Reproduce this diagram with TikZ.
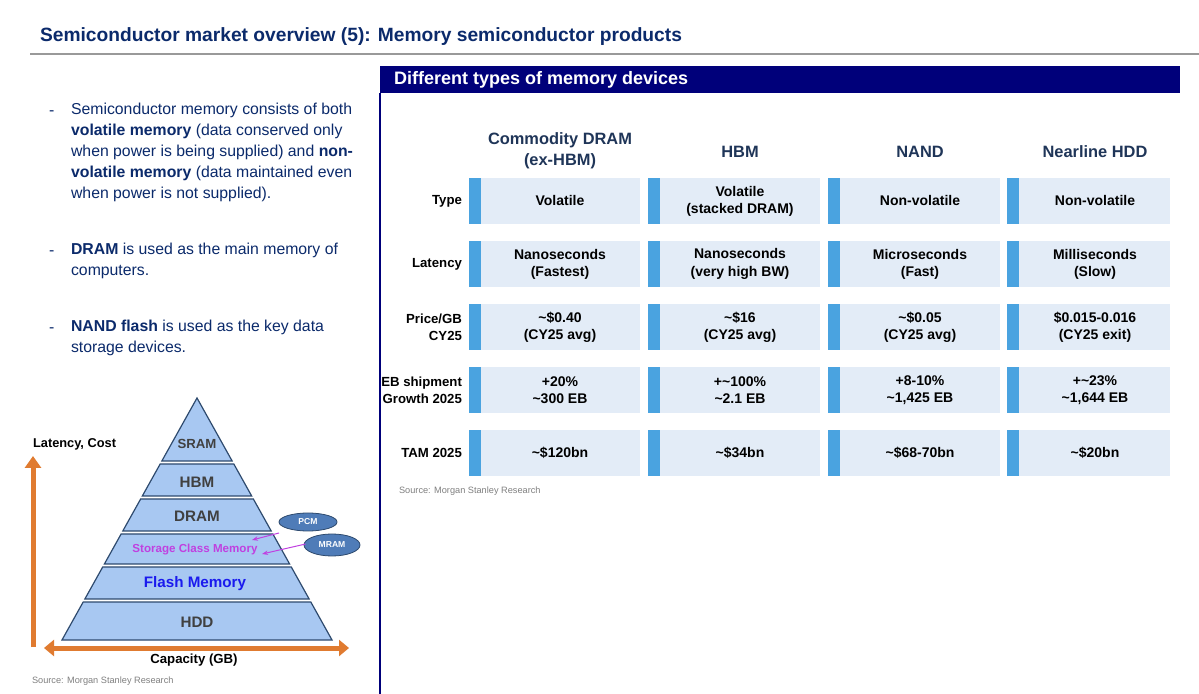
\documentclass[tikz,border=0pt]{standalone}
\usepackage{fontspec}
\setmainfont{Liberation Sans}
\usetikzlibrary{shapes.geometric,arrows.meta}
\definecolor{navy}{HTML}{0B2A6B}
\definecolor{hdr}{HTML}{00007A}
\definecolor{cellbg}{HTML}{E3ECF7}
\definecolor{stripe}{HTML}{4AA3E0}
\definecolor{colhd}{HTML}{1F3558}
\definecolor{pyr}{HTML}{A8C8F2}
\definecolor{pyrl}{HTML}{2E4A6E}
\definecolor{orng}{HTML}{E07B30}
\definecolor{ell}{HTML}{4F7CB8}
\definecolor{scm}{HTML}{C040E0}
\definecolor{flash}{HTML}{1A1AEE}
\begin{document}
\begin{tikzpicture}[x=0.5pt,y=-0.5pt,
  cell/.style={font=\bfseries\fontsize{7}{8.6}\selectfont,align=center,text=black},
  rowlab/.style={font=\bfseries\fontsize{6.6}{8.6}\selectfont,align=right,anchor=east,text=black},
  colh/.style={font=\bfseries\fontsize{8.2}{10.5}\selectfont,align=center,text=colhd},
  bul/.style={font=\fontsize{7.9}{10.5}\selectfont,text=navy,anchor=north west,align=left},
  bdash/.style={font=\fontsize{7.9}{10.5}\selectfont,text=navy,anchor=north west,text height=6pt,text depth=1.7pt},
  lay/.style={fill=pyr,draw=pyrl,line width=0.6pt},
  laytxt/.style={font=\bfseries\fontsize{7.6}{8}\selectfont,text=black!75},
  src/.style={font=\fontsize{4.6}{5.5}\selectfont,text=black!50,anchor=west}]
\useasboundingbox (0,0) rectangle (1199,694);
\fill[white] (0,0) rectangle (1199,694);
% title
\node[anchor=west,font=\bfseries\fontsize{9.6}{11}\selectfont,text=navy] (title) at (33,37) {Semiconductor market overview (5): Memory semiconductor products};
\draw[black!40,line width=0.6pt] (30,54) -- (1199,54);
% right panel
\fill[hdr] (380,66) rectangle (1180,93);
\node[anchor=west,font=\bfseries\fontsize{9}{10}\selectfont,text=white] (ptitle) at (387,80) {Different types of memory devices};
\draw[hdr,line width=0.8pt] (380,93) -- (380,694);
% column headers
\node[colh] (h1) at (560,151) {Commodity DRAM\\(ex-HBM)};
\node[colh] (h2) at (740,152) {HBM};
\node[colh] (h3) at (920,152) {NAND};
\node[colh] (h4) at (1095,152) {Nearline HDD};
% cells
\def\cx{{469,648,828,1007}}
\def\cw{{171,172,172,163}}
\foreach \r/\y/\lab in {1/178/Type,2/241/Latency,3/304/{Price/GB\\CY25},4/367/{EB shipment\\Growth 2025},5/430/TAM 2025}{
  \node[rowlab] (rl\r) at (469,\y+23) {\lab};
  \foreach \c in {0,1,2,3}{
    \pgfmathsetmacro{\xa}{\cx[\c]}
    \pgfmathsetmacro{\wa}{\cw[\c]}
    \fill[cellbg] (\xa+12,\y) rectangle (\xa+\wa,\y+46);
    \fill[stripe] (\xa,\y) rectangle (\xa+12,\y+46);
  }
}
\foreach \r/\y in {1/178,2/241,3/304,4/367,5/430}{
 \foreach \c/\xm in {1/560,2/740,3/920,4/1095}{
  \coordinate (c\r\c) at (\xm,\y+23);
 }
}
\node[cell] at (c11) {Volatile};
\node[cell] at (c12) {Volatile\\(stacked DRAM)};
\node[cell] at (c13) {Non-volatile};
\node[cell] at (c14) {Non-volatile};
\node[cell] at (c21) {Nanoseconds\\(Fastest)};
\node[cell] at (c22) {Nanoseconds\\(very high BW)};
\node[cell] at (c23) {Microseconds\\(Fast)};
\node[cell] at (c24) {Milliseconds\\(Slow)};
\node[cell] at (c31) {\textasciitilde\$0.40\\(CY25 avg)};
\node[cell] at (c32) {\textasciitilde\$16\\(CY25 avg)};
\node[cell] at (c33) {\textasciitilde\$0.05\\(CY25 avg)};
\node[cell] at (c34) {\$0.015-0.016\\(CY25 exit)};
\node[cell] at (c41) {+20\%\\\textasciitilde300 EB};
\node[cell] at (c42) {+\textasciitilde100\%\\\textasciitilde2.1 EB};
\node[cell] at (c43) {+8-10\%\\\textasciitilde1,425 EB};
\node[cell] at (c44) {+\textasciitilde23\%\\\textasciitilde1,644 EB};
\node[cell] at (c51) {\textasciitilde\$120bn};
\node[cell] at (c52) {\textasciitilde\$34bn};
\node[cell] at (c53) {\textasciitilde\$68-70bn};
\node[cell] at (c54) {\textasciitilde\$20bn};
\node[src] (src1) at (392,491) {Source: Morgan Stanley Research};
% bullets
\node[bdash] (d1) at (42,96) {-};
\node[bul] (b1) at (64,96) {Semiconductor memory consists of both\\\textbf{volatile memory} (data conserved only\\when power is being supplied) and \textbf{non-}\\\textbf{volatile memory} (data maintained even\\when power is not supplied).};
\node[bdash] (d2) at (42,236) {-};
\node[bul] (b2) at (64,236) {\textbf{DRAM} is used as the main memory of\\computers.};
\node[bdash] (d3) at (42,313) {-};
\node[bul] (b3) at (64,313) {\textbf{NAND flash} is used as the key data\\storage devices.};
% pyramid
\def\ax{197}\def\ay{398}\def\k{0.5579}
\foreach \n/\ya/\yb in {1/398/461,2/464/496,3/499/531,4/534/564,5/567/599,6/602/640}{
  \pgfmathsetmacro{\wa}{\k*(\ya-\ay)}
  \pgfmathsetmacro{\wb}{\k*(\yb-\ay)}
  \path[lay] (\ax-\wa,\ya) -- (\ax+\wa,\ya) -- (\ax+\wb,\yb) -- (\ax-\wb,\yb) -- cycle;
}
\node[laytxt,font=\bfseries\fontsize{6.6}{7}\selectfont] (sram) at (197,444) {SRAM};
\node[laytxt] (hbm) at (197,482) {HBM};
\node[laytxt] (dram) at (197,516) {DRAM};
\node[font=\bfseries\fontsize{5.8}{6}\selectfont,text=scm] (scm) at (195,550) {Storage Class Memory};
\node[font=\bfseries\fontsize{7.6}{8}\selectfont,text=flash] (flashm) at (195,584) {Flash Memory};
\node[laytxt] (hdd) at (197,622) {HDD};
\node[ellipse,fill=ell,draw=pyrl,line width=0.4pt,minimum width=29pt,minimum height=9pt,inner sep=0pt,font=\bfseries\fontsize{4.3}{5}\selectfont,text=white] (pcm) at (308,522) {PCM};
\node[ellipse,fill=ell,draw=pyrl,line width=0.4pt,minimum width=28pt,minimum height=11pt,inner sep=0pt,font=\bfseries\fontsize{4.3}{5}\selectfont,text=white] (mram) at (332,545) {MRAM};
\coordinate (pa) at (252,540);
\coordinate (ma) at (262,554);
\draw[scm,line width=0.5pt,-{Stealth[length=3pt]}] (279,533) -- (pa);
\draw[scm,line width=0.5pt,-{Stealth[length=3pt]}] (mram.west) ++(2,-1) -- (ma);
% axes
\coordinate (vb) at (33,647);
\coordinate (vt) at (33,456);
\coordinate (hl) at (44,648);
\coordinate (hr) at (349,648);
\draw[orng,line width=2.5pt,-{Triangle[length=6pt,width=8pt]}] (vb) -- (vt);
\draw[orng,line width=2.5pt,{Triangle[length=5pt,width=8pt]}-{Triangle[length=5pt,width=8pt]}] (hl) -- (hr);
\node[font=\bfseries\fontsize{6.4}{7}\selectfont,anchor=west] (ylab) at (26,444) {Latency, Cost};
\node[font=\bfseries\fontsize{6.6}{7}\selectfont] (xlab) at (194,660) {Capacity (GB)};
\node[src] (src2) at (25,681) {Source: Morgan Stanley Research};
\end{tikzpicture}
\end{document}
